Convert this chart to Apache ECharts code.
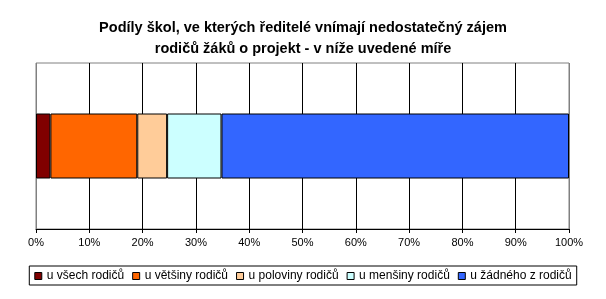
<!DOCTYPE html>
<html><head><meta charset="utf-8">
<script src="https://cdn.jsdelivr.net/npm/echarts@6/dist/echarts.min.js"></script>
<style>html,body{margin:0;padding:0;background:#fff}#c{width:606px;height:299px}</style>
</head><body><div id="c"></div>
<script>
const titleLines = ["Podíly škol, ve kterých ředitelé vnímají nedostatečný zájem", "rodičů žáků o projekt - v níže uvedené míře"];
const categories = [""];
const seriesNames = ["u všech rodičů", "u většiny rodičů", "u poloviny rodičů", "u menšiny rodičů", "u žádného z rodičů"];
const seriesValues = [[2.7], [16.3], [5.6], [10.2], [65.2]];
const seriesColors = ["#800000", "#FF6600", "#FFCC99", "#CCFFFF", "#3366FF"];
const FONT = "'Liberation Sans', Arial, sans-serif";
const chart = echarts.init(document.getElementById('c'), null, {renderer: 'canvas'});
const gridColors = ['#808080','#000','#000','#000','#000','#000','#000','#000','#000','#000','#808080'];
chart.setOption({
  animation: false,
  backgroundColor: '#fff',
  title: {
    text: titleLines.join('\n'),
    left: 'center', top: 12,
    textStyle: {fontFamily: FONT, fontSize: 14.5, fontWeight: 'bold', color: '#000', lineHeight: 21}
  },
  grid: {left: 36, right: 37, top: 63, bottom: 70, show: true, borderColor: '#808080', borderWidth: 1, containLabel: false},
  xAxis: {
    type: 'value', min: 0, max: 100, interval: 10,
    axisLabel: {formatter: '{value}%', fontFamily: FONT, fontSize: 11, color: '#000', margin: 8},
    axisLine: {show: true, lineStyle: {color: '#000', width: 1}},
    axisTick: {show: true, length: 4, lineStyle: {color: '#000'}},
    splitLine: {show: true, lineStyle: {color: gridColors, width: 1}}
  },
  yAxis: {type: 'category', data: categories, show: false},
  legend: {
    left: 'center', top: 266, orient: 'horizontal',
    data: seriesNames,
    borderColor: '#000', borderWidth: 1, padding: [4, 5, 3, 5],
    itemWidth: 7, itemHeight: 7, itemGap: 8,
    icon: 'rect',
    itemStyle: {borderColor: '#000', borderWidth: 1},
    textStyle: {fontFamily: FONT, fontSize: 12, color: '#000'}
  },
  series: seriesNames.map((n, i) => ({
    name: n, type: 'bar', stack: 'all', data: seriesValues[i], barWidth: 65,
    itemStyle: {color: seriesColors[i], borderColor: '#000', borderWidth: 1}
  }))
});
</script></body></html>
